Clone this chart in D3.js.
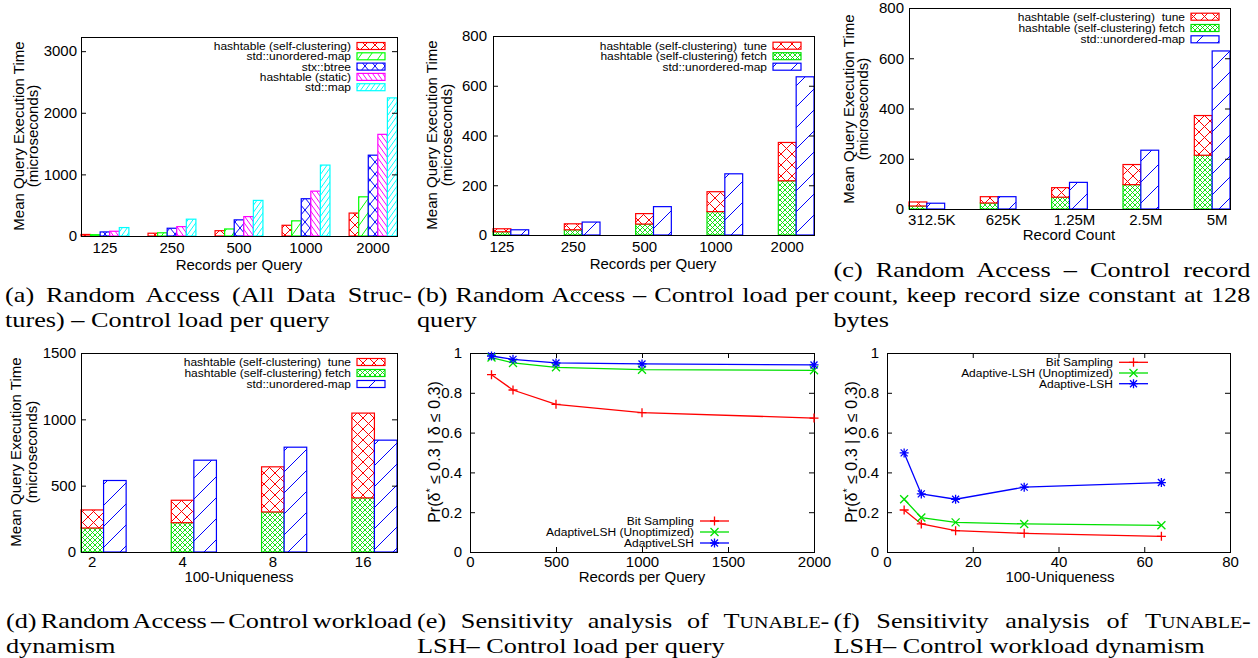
<!DOCTYPE html>
<html>
<head>
<meta charset="utf-8">
<script src="https://cdn.jsdelivr.net/npm/d3@7"></script>
<style>
    body { margin: 0; background: #fff; }
</style>
</head>
<body>
<svg id="figure" width="1258" height="658"></svg>
<script>
// ---- data ----
var recordsPerQuery = ["125", "250", "500", "1000", "2000"];
var recordCounts = ["312.5K", "625K", "1.25M", "2.5M", "5M"];
var uniqueness = ["2", "4", "8", "16"];

// (a) all data structures
var allStructureNames = ["hashtable (self-clustering)", "std::unordered-map", "stx::btree", "hashtable (static)", "std::map"];
var allSelfClustering = [25, 45, 86, 174, 372];
var allUnorderedMap = [21, 52, 114, 246, 636];
var allBtree = [66, 126, 262, 605, 1312];
var allStatic = [77, 152, 315, 728, 1650];
var allStdMap = [137, 273, 578, 1151, 2242];

// (b) load per query
var loadFetch = [13, 21, 44, 94, 218];
var loadTune = [12, 24, 42, 80, 154];
var loadUnordered = [21, 52, 114, 246, 636];

// (c) record count
var countFetch = [12, 24, 47, 97, 214];
var countTune = [16, 25, 38, 80, 158];
var countUnordered = [23, 49, 106, 234, 629];

// (d) workload dynamism
var dynFetch = [181, 221, 302, 408];
var dynTune = [136, 169, 340, 639];
var dynUnordered = [539, 692, 790, 843];

var stackedNames = ["hashtable (self-clustering)  tune", "hashtable (self-clustering) fetch", "std::unordered-map"];

// (e) sensitivity vs records per query
var sensLoadX = [125, 250, 500, 1000, 2000];
var sensLoadBit = [0.891, 0.814, 0.742, 0.700, 0.673];
var sensLoadUnopt = [0.977, 0.950, 0.928, 0.916, 0.913];
var sensLoadAdaptive = [0.985, 0.968, 0.950, 0.945, 0.940];
var sensLoadNames = ["Bit Sampling", "AdaptiveLSH (Unoptimized)", "AdaptiveLSH"];

// (f) sensitivity vs uniqueness
var sensDynX = [4, 8, 16, 32, 64];
var sensDynBit = [0.211, 0.141, 0.107, 0.094, 0.079];
var sensDynUnopt = [0.265, 0.173, 0.149, 0.141, 0.134];
var sensDynAdaptive = [0.498, 0.292, 0.265, 0.326, 0.349];
var sensDynNames = ["Bit Sampling", "Adaptive-LSH (Unoptimized)", "Adaptive-LSH"];

// tick values
var ticksAll = [0, 1000, 2000, 3000];
var ticks800 = [0, 200, 400, 600, 800];
var ticks1500 = [0, 500, 1000, 1500];
var ticksProb = [0, 0.2, 0.4, 0.6, 0.8, 1];
var ticksLoadX = [0, 500, 1000, 1500, 2000];
var ticksDynX = [0, 20, 40, 60, 80];

// captions, one string per printed line; {..} is small caps
var captionA = ["(a) Random Access (All Data Struc-", "tures) \u2013 Control load per query"];
var captionB = ["(b) Random Access \u2013 Control load per", "query"];
var captionC = ["(c) Random Access \u2013 Control record", "count, keep record size constant at 128", "bytes"];
var captionD = ["(d) Random Access \u2013 Control workload", "dynamism"];
var captionE = ["(e) Sensitivity analysis of {Tunable}-", "LSH\u2013 Control load per query"];
var captionF = ["(f) Sensitivity analysis of {Tunable}-", "LSH\u2013 Control workload dynamism"];

var SANS = "'Liberation Sans', Arial, sans-serif";
var SERIF = "'Liberation Serif', 'Times New Roman', serif";

var svg = d3.select("#figure");
svg.append("rect").attr("width", 1258).attr("height", 658).attr("fill", "#fff");
var defs = svg.append("defs");

/**
 * gnuplot-like hatch fill
 */
function hatch(id, color, kind, w, h, sw) {
    var p = defs.append("pattern").attr("id", id)
        .attr("patternUnits", "userSpaceOnUse")
        .attr("width", w).attr("height", h);
    p.append("rect").attr("width", w).attr("height", h).attr("fill", "#fff");
    var fwd = "M0," + h + "L" + w + ",0M" + (-w / 4) + "," + (h / 4) + "L" + (w / 4) + "," + (-h / 4) +
        "M" + (3 * w / 4) + "," + (5 * h / 4) + "L" + (5 * w / 4) + "," + (3 * h / 4);
    var back = "M0,0L" + w + "," + h + "M" + (3 * w / 4) + "," + (-h / 4) + "L" + (5 * w / 4) + "," + (h / 4) +
        "M" + (-w / 4) + "," + (3 * h / 4) + "L" + (w / 4) + "," + (5 * h / 4);
    var d = kind === "fwd" ? fwd : (kind === "back" ? back : fwd + back);
    p.append("path").attr("d", d).attr("fill", "none").attr("stroke", color).attr("stroke-width", sw || 1);
}

hatch("redX", "#ff0000", "cross", 11, 11);
hatch("redXsmall", "#ff0000", "cross", 10, 10);
hatch("greenMesh", "#00e000", "cross", 5, 5, 0.9);
hatch("greenSlash", "#00ff00", "fwd", 10, 14);
hatch("blueX", "#0000ff", "cross", 10, 12);
hatch("magentaBack", "#ff00ff", "back", 5, 7);
hatch("cyanFwd", "#00ffff", "fwd", 5, 7);
hatch("blueSlash", "#0000ff", "fwd", 21, 21);

function styleAxis(g, size) {
    g.attr("font-size", size).attr("font-family", SANS);
    g.select(".domain").remove();
}

function yTitle(lines, xs, cy) {
    lines.forEach(function (line, i) {
        svg.append("text")
            .attr("transform", "translate(" + xs[i] + "," + cy + ") rotate(-90)")
            .attr("text-anchor", "middle")
            .attr("font-family", SANS).attr("font-size", 15)
            .text(line);
    });
}

function xTitle(label, cx, by) {
    svg.append("text").attr("x", cx).attr("y", by)
        .attr("text-anchor", "middle")
        .attr("font-family", SANS).attr("font-size", 15)
        .text(label);
}

// key text: gnuplot glyphs are a bit wider than tall here
function keyText(g, x, y, label) {
    g.append("text")
        .attr("transform", "translate(" + x + "," + y + ") scale(1.09,1)")
        .attr("dy", "0.36em").attr("text-anchor", "end")
        .style("white-space", "pre").text(label);
}

/**
 * Clustered (optionally stacked) histogram
 */
function drawBarPanel(p) {
    var g = svg.append("g");
    var y = d3.scaleLinear().domain([0, p.yMax]).range([p.bottom, p.top]);
    var n = p.slots.length;
    var x = d3.scaleBand().domain(p.cats).range([p.left, p.right])
        .paddingInner(2 / (n + 2)).paddingOuter(0);
    var xs = d3.scaleBand().domain(d3.range(n)).range([0, x.bandwidth()]);

    p.slots.forEach(function (layers, j) {
        var base = p.cats.map(function () { return 0; });
        layers.forEach(function (layer) {
            var rows = p.cats.map(function (c, i) {
                return { c: c, v0: base[i], v1: base[i] + layer.values[i] };
            });
            g.append("g").selectAll("rect").data(rows).join("rect")
                .attr("x", function (d) { return x(d.c) + xs(j); })
                .attr("width", xs.bandwidth())
                .attr("y", function (d) { return y(d.v1); })
                .attr("height", function (d) { return y(d.v0) - y(d.v1); })
                .attr("fill", "url(#" + layer.pattern + ")")
                .attr("stroke", layer.color).attr("stroke-width", 1.2);
            base = base.map(function (b, i) { return b + layer.values[i]; });
        });
    });

    // frame and ticks
    g.append("rect").attr("x", p.left + 0.5).attr("y", p.top + 0.5)
        .attr("width", p.right - p.left).attr("height", p.bottom - p.top)
        .attr("fill", "none").attr("stroke", "#000");
    var la = g.append("g").attr("transform", "translate(" + p.left + ",0)")
        .call(d3.axisLeft(y).tickValues(p.yTicks).tickSizeInner(-5).tickSizeOuter(0)
            .tickPadding(p.pad).tickFormat(d3.format("d")));
    styleAxis(la, 15);
    var ra = g.append("g").attr("transform", "translate(" + p.right + ",0)")
        .call(d3.axisRight(y).tickValues(p.yTicks).tickSizeInner(-5).tickSizeOuter(0).tickFormat(""));
    styleAxis(ra, 15);

    // category labels
    var shift = p.labelAtFirst ? -(x.bandwidth() / 2 - xs.bandwidth() / 2) : p.labelShift;
    var ba = g.append("g").attr("transform", "translate(" + shift + "," + p.bottom + ")")
        .call(d3.axisBottom(x).tickSize(0).tickPadding(p.xPad));
    styleAxis(ba, 15);

    // key
    var leg = g.append("g").attr("font-family", SANS).attr("font-size", 11);
    p.legend.forEach(function (e, i) {
        var cy = p.legY + i * p.legStep;
        keyText(leg, p.legX, cy, e.label);
        leg.append("rect").attr("x", p.legX + 6).attr("y", cy - 3.5)
            .attr("width", 28).attr("height", 7)
            .attr("fill", "url(#" + e.pattern + ")").attr("stroke", e.color).attr("stroke-width", 1.2);
    });
}

var markerPaths = {
    plus: "M-4.5,0H4.5M0,-4.5V4.5",
    cross: "M-4,-4L4,4M-4,4L4,-4",
    star: "M-4.5,0H4.5M0,-4.5V4.5M-3.5,-3.5L3.5,3.5M-3.5,3.5L3.5,-3.5"
};

/**
 * Lines with points
 */
function drawLinePanel(p) {
    var g = svg.append("g");
    var x = d3.scaleLinear().domain(p.xDomain).range([p.left, p.right]);
    var y = d3.scaleLinear().domain([0, 1]).range([p.bottom, p.top]);
    var fmt = d3.format("~g");

    g.append("rect").attr("x", p.left + 0.5).attr("y", p.top + 0.5)
        .attr("width", p.right - p.left).attr("height", p.bottom - p.top)
        .attr("fill", "none").attr("stroke", "#000");
    styleAxis(g.append("g").attr("transform", "translate(" + p.left + ",0)")
        .call(d3.axisLeft(y).tickValues(ticksProb).tickSizeInner(-5).tickSizeOuter(0).tickPadding(p.pad).tickFormat(fmt)), 15);
    styleAxis(g.append("g").attr("transform", "translate(" + p.right + ",0)")
        .call(d3.axisRight(y).tickValues(ticksProb).tickSizeInner(-5).tickSizeOuter(0).tickFormat("")), 15);
    styleAxis(g.append("g").attr("transform", "translate(0," + p.bottom + ")")
        .call(d3.axisBottom(x).tickValues(p.xTicks).tickSizeInner(-5).tickSizeOuter(0).tickPadding(p.xPad).tickFormat(fmt)), 15);
    styleAxis(g.append("g").attr("transform", "translate(0," + p.top + ")")
        .call(d3.axisTop(x).tickValues(p.xTicks).tickSizeInner(-5).tickSizeOuter(0).tickFormat("")), 15);

    var line = d3.line().x(function (d) { return x(d[0]); }).y(function (d) { return y(d[1]); });
    p.series.forEach(function (s) {
        var pts = p.xs.map(function (v, i) { return [v, s.values[i]]; });
        g.append("path").datum(pts).attr("d", line)
            .attr("fill", "none").attr("stroke", s.color).attr("stroke-width", 1.3);
        g.append("g").selectAll("path").data(pts).join("path")
            .attr("transform", function (d) { return "translate(" + x(d[0]) + "," + y(d[1]) + ")"; })
            .attr("d", markerPaths[s.marker])
            .attr("fill", "none").attr("stroke", s.color).attr("stroke-width", 1.3);
    });

    var leg = g.append("g").attr("font-family", SANS).attr("font-size", 11);
    p.series.forEach(function (s, i) {
        var cy = p.legY + i * p.legStep;
        keyText(leg, p.legX, cy, s.label);
        leg.append("line").attr("x1", p.legX + 6).attr("x2", p.legX + 35)
            .attr("y1", cy).attr("y2", cy).attr("stroke", s.color).attr("stroke-width", 1.3);
        leg.append("path").attr("transform", "translate(" + (p.legX + 20.5) + "," + cy + ")")
            .attr("d", markerPaths[s.marker])
            .attr("fill", "none").attr("stroke", s.color).attr("stroke-width", 1.3);
    });
}

// (a)
drawBarPanel({
    left: 81, right: 397, top: 37, bottom: 236, yMax: 3230, yTicks: ticksAll, pad: 4, xPad: 6,
    cats: recordsPerQuery, labelShift: 0,
    slots: [
        [{ values: allSelfClustering, pattern: "redXsmall", color: "#ff0000" }],
        [{ values: allUnorderedMap, pattern: "greenSlash", color: "#00ff00" }],
        [{ values: allBtree, pattern: "blueX", color: "#0000ff" }],
        [{ values: allStatic, pattern: "magentaBack", color: "#ff00ff" }],
        [{ values: allStdMap, pattern: "cyanFwd", color: "#00ffff" }]
    ],
    legX: 351, legY: 46, legStep: 10.3,
    legend: [
        { label: allStructureNames[0], pattern: "redXsmall", color: "#ff0000" },
        { label: allStructureNames[1], pattern: "greenSlash", color: "#00ff00" },
        { label: allStructureNames[2], pattern: "blueX", color: "#0000ff" },
        { label: allStructureNames[3], pattern: "magentaBack", color: "#ff00ff" },
        { label: allStructureNames[4], pattern: "cyanFwd", color: "#00ffff" }
    ]
});
yTitle(["Mean Query Execution Time", "(microseconds)"], [23.5, 37.5], 136);
xTitle("Records per Query", 239, 270);

function stackedLegend() {
    return [
        { label: stackedNames[0], pattern: "redX", color: "#ff0000" },
        { label: stackedNames[1], pattern: "greenMesh", color: "#00e000" },
        { label: stackedNames[2], pattern: "blueSlash", color: "#0000ff" }
    ];
}
function stackedSlots(fetch, tune, other) {
    return [
        [{ values: fetch, pattern: "greenMesh", color: "#00e000" }, { values: tune, pattern: "redX", color: "#ff0000" }],
        [{ values: other, pattern: "blueSlash", color: "#0000ff" }]
    ];
}

// (b)
drawBarPanel({
    left: 493, right: 814, top: 36, bottom: 235, yMax: 800, yTicks: ticks800, pad: 6, xPad: 6,
    cats: recordsPerQuery, labelAtFirst: true,
    slots: stackedSlots(loadFetch, loadTune, loadUnordered),
    legX: 767, legY: 45.7, legStep: 10.5, legend: stackedLegend()
});
yTitle(["Mean Query Execution Time", "(microseconds)"], [437, 452], 135);
xTitle("Records per Query", 653, 269);

// (c)
drawBarPanel({
    left: 909, right: 1230, top: 8, bottom: 209, yMax: 800, yTicks: ticks800, pad: 5, xPad: 5,
    cats: recordCounts, labelShift: 5,
    slots: stackedSlots(countFetch, countTune, countUnordered),
    legX: 1185, legY: 16.7, legStep: 11.3, legend: stackedLegend()
});
yTitle(["Mean Query Execution Time", "(microseconds)"], [853.5, 867.5], 109);
xTitle("Record Count", 1069, 240);

// (d)
drawBarPanel({
    left: 81, right: 397, top: 353, bottom: 552, yMax: 1500, yTicks: ticks1500, pad: 5, xPad: 4,
    cats: uniqueness, labelAtFirst: true,
    slots: stackedSlots(dynFetch, dynTune, dynUnordered),
    legX: 351, legY: 362, legStep: 11, legend: stackedLegend()
});
yTitle(["Mean Query Execution Time", "(microseconds)"], [21, 36.5], 452);
xTitle("100-Uniqueness", 239, 582);

// (e)
drawLinePanel({
    left: 470, right: 814, top: 353, bottom: 552, pad: 8, xPad: 4,
    xDomain: [0, 2000], xTicks: ticksLoadX, xs: sensLoadX,
    series: [
        { label: sensLoadNames[0], values: sensLoadBit, color: "#ff0000", marker: "plus" },
        { label: sensLoadNames[1], values: sensLoadUnopt, color: "#00e000", marker: "cross" },
        { label: sensLoadNames[2], values: sensLoadAdaptive, color: "#0000ff", marker: "star" }
    ],
    legX: 694, legY: 521, legStep: 11
});
xTitle("Records per Query", 642, 582);

// (f)
drawLinePanel({
    left: 887, right: 1230, top: 353, bottom: 552, pad: 8, xPad: 4,
    xDomain: [0, 80], xTicks: ticksDynX, xs: sensDynX,
    series: [
        { label: sensDynNames[0], values: sensDynBit, color: "#ff0000", marker: "plus" },
        { label: sensDynNames[1], values: sensDynUnopt, color: "#00e000", marker: "cross" },
        { label: sensDynNames[2], values: sensDynAdaptive, color: "#0000ff", marker: "star" }
    ],
    legX: 1113, legY: 362.3, legStep: 10.7
});
xTitle("100-Uniqueness", 1060, 582);

// probability axis titles
[[439.5, 452], [856.5, 452]].forEach(function (pos) {
    var t = svg.append("text")
        .attr("transform", "translate(" + pos[0] + "," + pos[1] + ") rotate(-90)")
        .attr("text-anchor", "middle").attr("font-family", SANS).attr("font-size", 16);
    t.append("tspan").text("Pr(\u03b4");
    t.append("tspan").attr("font-size", 11).attr("dy", -6).text("*");
    t.append("tspan").attr("dy", 6).text(" \u2264 0.3 | \u03b4 \u2264 0.3)");
});

// ---- captions (LaTeX, justified) ----
var capG = svg.append("g").attr("font-family", SERIF).attr("font-size", 21).attr("fill", "#000");
var capBlocks = [
    { lines: captionA, x: 5, width: 407, base: 302, lastWidth: 329 },
    { lines: captionB, x: 417, width: 412, base: 302, lastWidth: 65 },
    { lines: captionC, x: 833.5, width: 417, base: 277, lastWidth: 60.5 },
    { lines: captionD, x: 6, width: 406, base: 628, lastWidth: 105 },
    { lines: captionE, x: 417, width: 412, base: 628, lastWidth: 307 },
    { lines: captionF, x: 833.5, width: 417, base: 628, lastWidth: 367 }
];

function captionLine(str) {
    var t = capG.append("text");
    str.split(/(\{[^}]*\})/).forEach(function (part) {
        if (!part) return;
        if (part.charAt(0) === "{") {
            var word = part.slice(1, -1).toUpperCase();
            t.append("tspan").text(word.charAt(0));
            t.append("tspan").attr("font-size", 16).text(word.slice(1));
        } else {
            t.append("tspan").text(part);
        }
    });
    return t;
}

var rendered = capBlocks.map(function (b) {
    return b.lines.map(function (str) {
        var t = captionLine(str);
        return { t: t, str: str, w: t.node().getComputedTextLength() };
    });
});
var sx = d3.mean(capBlocks.filter(function (b) { return b.lastWidth > 200; }), function (b) {
    var r = rendered[capBlocks.indexOf(b)];
    return b.lastWidth / r[r.length - 1].w;
});
capBlocks.forEach(function (b, i) {
    rendered[i].forEach(function (r, k) {
        var y = b.base + k * 25;
        r.t.attr("transform", "translate(" + b.x + "," + y + ") scale(" + sx + ",1)");
        if (k < rendered[i].length - 1) {
            var gaps = (r.str.match(/ /g) || []).length;
            r.t.attr("word-spacing", (b.width / sx - r.w) / gaps);
        }
    });
});
</script>
</body>
</html>
